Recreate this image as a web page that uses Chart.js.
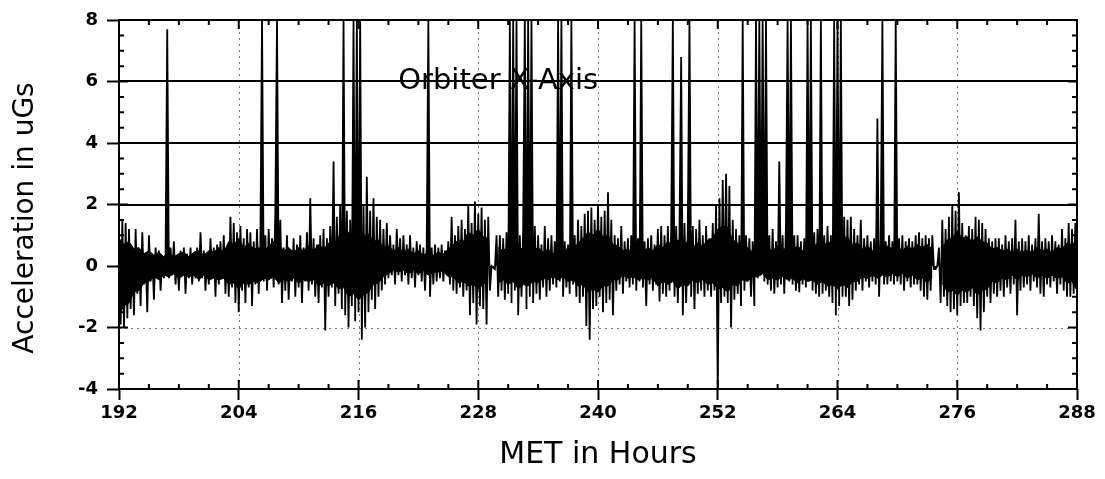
<!DOCTYPE html>
<html><head><meta charset="utf-8">
<script src="https://cdn.jsdelivr.net/npm/chart.js@4.4.1/dist/chart.umd.min.js"></script>
<style>html,body{margin:0;padding:0;background:#fff;} #wrap{width:1105px;height:479px;}</style>
</head><body><div id="wrap"><canvas id="c" width="1105" height="479"></canvas></div>
<script>
// ---- data ----
const xTickLabels = [192, 204, 216, 228, 240, 252, 264, 276, 288];
const yTickLabels = [-4, -2, 0, 2, 4, 6, 8];
const segmentStartHours = [192, 204, 216, 228, 240, 252, 264, 276];
const samplesPerHour = 6;     // spiky trace: one reading every 10 minutes
const coreStepHours = 0.5;    // dense noise core: one envelope reading every half hour

// spiky trace (uG), 12 hours per array
const accel192 = [
 0.8,-1.9,1.5,-2.0,1.4,-1.7,  1.2,-1.4,0.6,-1.6,1.2,-0.9,  0.5,-1.3,1.1,-0.6,0.4,-1.5,
 1.0,-0.5,0.4,-1.1,0.6,-0.4,  0.5,-0.8,0.3,-0.4,0.4,7.7,   -0.4,0.6,-0.3,0.8,-0.6,0.3,
 -0.8,0.5,-0.3,0.6,-0.9,0.4,  -0.4,0.6,-0.6,0.3,-0.4,0.6,  -0.5,1.1,-0.4,0.5,-0.8,0.4,
 -0.6,0.9,-0.3,0.6,-1.0,0.7,  -0.6,0.8,-0.4,1.0,-0.9,0.6,  -1.0,1.6,-0.7,1.4,-1.2,1.1];
const accel204 = [
 -1.5,1.3,-0.8,0.9,-1.2,1.2,  -0.7,1.1,-1.3,0.8,-0.6,1.2,  -0.9,0.7,8,-0.5,1.0,-0.8,
 1.2,-0.4,0.9,-0.7,1.8,8,     -0.6,1.5,-1.2,0.6,-0.8,1.0,  -1.1,0.5,-0.5,0.9,-1.0,0.7,
 -0.7,1.0,-1.2,0.6,-0.5,1.1,  -0.8,2.2,-0.6,0.9,-1.0,0.7,  -1.2,1.0,-0.7,1.2,-2.1,0.9,
 -1.0,1.3,-0.7,3.4,-1.3,1.6,  -0.9,2.0,-1.4,8,-1.6,1.8,    -2.0,1.5,-1.3,8,-1.8,8];
const accel216 = [
 -1.5,8,-2.4,2.0,-2.0,2.9,    -1.5,1.8,-1.1,2.2,-1.4,1.6,  -1.0,1.5,-0.8,1.2,-0.6,1.4,
 -0.4,1.0,-0.3,0.7,-0.6,1.2,  -0.3,0.9,-0.5,1.0,-0.3,0.7,  -0.6,1.0,-0.4,0.6,-0.7,0.8,
 -0.3,0.7,-0.5,0.6,-0.8,0.6,  8,-1.0,0.6,-0.6,0.7,-0.5,    0.6,-0.4,0.7,-0.5,0.5,-0.3,
 0.8,-0.6,1.6,-0.8,1.0,-0.9,  1.3,-0.7,1.5,-1.0,1.2,-0.8,  2.0,-1.6,1.4,-1.2,2.1,-1.9];
const accel228 = [
 1.7,-1.3,1.9,-1.4,1.5,-1.9,  1.6,-0.8,0.0,-0.05,-0.1,1.0, -1.0,1.0,-0.8,0.9,-1.1,1.1,
 -0.9,8,-1.2,8,-0.8,8,        -1.6,1.0,-1.0,1.2,8,-1.4,    8,-1.0,8,-1.2,1.3,-0.9,
 1.0,-1.1,0.7,-0.7,1.3,-1.0,  0.9,-0.8,1.0,-0.6,0.8,-0.7,  8,-0.5,8,-1.0,0.8,-0.7,
 0.7,-0.9,8,-0.6,1.0,-1.0,    1.5,-1.2,1.3,-1.0,1.7,-1.95, 1.8,-2.4,1.9,-1.4,1.5,-1.3];
const accel240 = [
 2.0,-1.0,1.6,-1.5,1.8,-1.2,  2.4,-1.1,1.5,-1.6,1.0,-0.8,  0.9,-0.6,1.3,-0.9,0.8,-0.5,
 0.9,-0.7,1.0,-0.6,8,-0.8,    0.9,-0.5,8,-0.7,0.8,-1.3,    0.9,-0.6,1.0,-0.8,0.7,-0.6,
 1.2,-1.15,1.3,-0.9,1.0,-1.0, 1.3,-0.8,1.1,8,-1.0,1.3,     -1.2,1.1,6.8,-1.6,1.4,-1.2,
 1.2,8,-1.0,1.3,-1.4,1.2,     -0.9,1.5,-0.8,1.0,-1.0,1.3,  -0.8,0.9,-1.0,1.4,-0.8,2.0];
const accel252 = [
 -4.0,2.2,-1.2,2.8,-1.0,3.0,  -1.2,2.6,-2.0,1.5,-1.1,1.2,  -0.9,1.0,-1.3,8,-0.8,1.0,
 -0.5,0.9,-1.0,0.8,-1.3,8,    -0.4,8,-0.3,8,-0.5,8,        -0.6,1.0,-0.8,1.2,-0.9,0.8,
 -0.7,3.4,-0.6,1.0,-0.9,1.3,  8,-0.5,8,-0.6,1.0,-0.8,      1.0,-0.85,0.8,-0.6,0.9,-0.7,
 8,-0.5,8,-0.8,1.1,-0.9,      1.2,-1.0,8,-0.9,1.0,-0.8,    1.3,-1.0,1.0,-1.2,8,-1.6];
const accel264 = [
 8,-1.3,8,-1.0,1.6,-1.0,      1.5,-1.3,1.6,-1.1,1.2,-0.8,  1.0,-0.6,1.5,-0.8,0.9,-0.5,
 1.0,-0.7,0.8,-0.5,0.9,-0.6,  4.8,-1.0,0.9,8,-0.6,0.8,     -0.6,1.0,-0.5,0.8,-0.6,8,
 -0.5,0.9,-0.6,1.0,-0.8,0.8,  -0.5,0.9,-0.7,0.8,-0.6,1.0,  -0.6,1.1,-0.8,0.9,-1.0,1.0,
 -1.1,0.9,-0.8,1.0,-0.1,-0.1, 0.0,0.6,-1.2,1.5,-1.0,1.2,   -1.3,1.6,-1.5,2.0,-1.4,1.8];
const accel276 = [
 -1.6,2.4,-1.3,1.4,-1.2,1.0,  -1.2,1.3,-1.0,1.2,-1.3,1.6,  -1.7,1.5,-2.1,1.4,-1.5,1.2,
 -1.0,0.9,-1.2,0.8,-0.9,0.9,  -1.0,0.9,-0.8,0.7,-1.0,1.0,  -0.7,0.8,-0.9,0.9,-0.6,1.5,
 -1.6,0.8,-0.8,0.9,-0.7,0.8,  -0.6,1.0,-0.8,0.7,-0.5,0.9,  -0.7,1.7,-0.9,0.8,-1.0,0.9,
 -0.6,0.8,-0.7,1.0,-0.5,0.8,  -0.9,0.7,-0.6,1.2,-0.8,0.9,  -1.0,1.4,-1.0,1.2,-0.9,1.4];
const accel288 = [-0.4];

// solid noise core: top and bottom of the solid black band, every half hour from 192 to 288
const coreTop = [
 0.9,0.7,0.8,0.55,0.6,0.4,0.5,0.35,0.45,0.3,0.45,0.3,0.4,0.45,0.3,0.45,0.5,0.35,0.5,0.45,0.6,0.45,0.8,0.7,
 0.9,0.6,0.75,0.55,0.6,0.45,0.65,0.8,0.7,0.5,0.6,0.45,0.6,0.5,0.65,0.5,0.7,0.55,0.75,0.7,0.95,0.85,1.1,0.95,
 1.2,1.0,1.05,0.8,0.85,0.6,0.65,0.5,0.6,0.45,0.55,0.4,0.5,0.35,0.45,0.35,0.45,0.4,0.55,0.7,0.85,0.8,1.1,1.0,
 1.2,0.95,0.9,null,0.6,0.5,0.65,0.55,0.7,0.5,0.65,0.5,0.6,0.45,0.55,0.4,0.55,0.45,0.6,0.5,0.75,0.9,1.1,1.0,
 1.2,0.95,1.0,0.7,0.65,0.5,0.55,0.45,0.55,0.45,0.6,0.5,0.7,0.6,0.8,0.65,0.85,0.7,0.8,0.6,0.75,0.65,0.85,0.9,
 1.2,1.3,1.25,0.85,0.75,0.55,0.6,0.45,0.55,0.45,0.6,0.5,0.65,0.5,0.65,0.55,0.65,0.5,0.7,0.6,0.75,0.6,0.8,0.7,
 0.95,0.9,0.95,0.7,0.75,0.55,0.65,0.5,0.65,0.5,0.65,0.55,0.65,0.5,0.65,0.55,0.7,0.6,0.7,0.55,null,0.6,0.85,0.9,
 1.15,0.9,0.95,0.8,0.95,0.8,0.75,0.55,0.6,0.5,0.55,0.45,0.55,0.45,0.5,0.45,0.6,0.5,0.55,0.45,0.6,0.55,0.75,0.7,
 0.8];
const coreBottom = [
 -1.6,-1.3,-1.2,-0.85,-0.8,-0.55,-0.5,-0.35,-0.45,-0.3,-0.35,-0.25,-0.4,-0.3,-0.35,-0.3,-0.45,-0.3,-0.45,-0.4,-0.45,-0.4,-0.6,-0.55,
 -0.75,-0.55,-0.6,-0.5,-0.55,-0.4,-0.45,-0.35,-0.55,-0.45,-0.5,-0.4,-0.55,-0.45,-0.5,-0.45,-0.65,-0.55,-0.65,-0.55,-0.75,-0.7,-1.0,-0.9,
 -1.1,-0.95,-0.85,-0.6,-0.55,-0.35,-0.25,-0.15,-0.2,-0.15,-0.25,-0.15,-0.25,-0.15,-0.3,-0.2,-0.2,-0.15,-0.35,-0.35,-0.55,-0.5,-0.65,-0.6,
 -0.75,-0.6,-0.5,null,-0.55,-0.45,-0.6,-0.5,-0.75,-0.6,-0.65,-0.5,-0.55,-0.4,-0.45,-0.35,-0.45,-0.35,-0.5,-0.45,-0.65,-0.6,-0.85,-0.75,
 -0.85,-0.65,-0.65,-0.45,-0.45,-0.3,-0.4,-0.35,-0.45,-0.4,-0.45,-0.4,-0.65,-0.5,-0.6,-0.5,-0.75,-0.6,-0.65,-0.45,-0.55,-0.45,-0.6,-0.55,
 -0.75,-0.7,-0.85,-0.6,-0.65,-0.45,-0.5,-0.35,-0.35,-0.25,-0.45,-0.4,-0.45,-0.35,-0.45,-0.4,-0.55,-0.4,-0.5,-0.45,-0.6,-0.5,-0.65,-0.6,
 -0.75,-0.6,-0.7,-0.5,-0.5,-0.35,-0.4,-0.3,-0.4,-0.3,-0.35,-0.25,-0.35,-0.25,-0.4,-0.3,-0.45,-0.4,-0.55,-0.35,null,-0.55,-0.85,-0.8,
 -0.95,-0.8,-0.85,-0.7,-0.95,-0.8,-0.75,-0.5,-0.55,-0.4,-0.45,-0.3,-0.45,-0.3,-0.35,-0.25,-0.4,-0.3,-0.4,-0.3,-0.4,-0.35,-0.55,-0.5,
 -0.8];

const solidGridValues = [2, 4, 6];
const dottedGridValues = [-2, 0];
const annotationText = 'Orbiter X-Axis';
const annotationAt = {x: 230, y: 6};
const yTitleText = 'Acceleration in uGs';

// ---- build points ----
const segments = [accel192, accel204, accel216, accel228, accel240, accel252, accel264, accel276];
const points = [];
segments.forEach((arr, k) => arr.forEach((v, i) => points.push({x: segmentStartHours[k] + i / samplesPerHour, y: v})));
points.push({x: 288, y: accel288[0]});
const corePtsTop = coreTop.map((v, j) => ({x: xTickLabels[0] + j * coreStepHours, y: v}));
const corePtsBottom = coreBottom.map((v, j) => ({x: xTickLabels[0] + j * coreStepHours, y: v}));

const FONT = '"DejaVu Sans", "Liberation Sans", Arial, sans-serif';

const framePlugin = {
  id: 'frame',
  beforeDatasetsDraw(chart) {
    const {ctx, chartArea: a, scales: {x, y}} = chart;
    ctx.save();
    ctx.strokeStyle = '#777'; ctx.lineWidth = 1; ctx.setLineDash([2, 4]);
    xTickLabels.slice(1, -1).forEach(v => {
      const px = Math.round(x.getPixelForValue(v)) + 0.5;
      ctx.beginPath(); ctx.moveTo(px, a.top); ctx.lineTo(px, a.bottom); ctx.stroke();
    });
    dottedGridValues.forEach(v => {
      const py = Math.round(y.getPixelForValue(v)) + 0.5;
      ctx.beginPath(); ctx.moveTo(a.left, py); ctx.lineTo(a.right, py); ctx.stroke();
    });
    ctx.setLineDash([]);
    ctx.strokeStyle = '#000'; ctx.lineWidth = 2;
    solidGridValues.forEach(v => {
      const py = Math.round(y.getPixelForValue(v));
      ctx.beginPath(); ctx.moveTo(a.left, py); ctx.lineTo(a.right, py); ctx.stroke();
    });
    ctx.restore();
  },
  afterDatasetsDraw(chart) {
    const {ctx, chartArea: a, scales: {x, y}} = chart;
    ctx.save();
    ctx.strokeStyle = '#000'; ctx.lineWidth = 2;
    ctx.strokeRect(a.left, a.top, a.right - a.left, a.bottom - a.top);
    for (let h = 192; h <= 288; h += 3) {
      const px = x.getPixelForValue(h);
      const len = (h % 12 === 0) ? 9 : 5;
      ctx.beginPath();
      ctx.moveTo(px, a.bottom); ctx.lineTo(px, a.bottom - len);
      ctx.moveTo(px, a.top); ctx.lineTo(px, a.top + len);
      ctx.stroke();
    }
    for (let v = -4; v <= 8; v += 0.5) {
      const py = y.getPixelForValue(v);
      const len = (v % 2 === 0) ? 9 : 5;
      ctx.beginPath();
      ctx.moveTo(a.left, py); ctx.lineTo(a.left + len, py);
      ctx.moveTo(a.right, py); ctx.lineTo(a.right - len, py);
      ctx.stroke();
    }
    ctx.fillStyle = '#000';
    ctx.font = '29px ' + FONT;
    ctx.textAlign = 'center'; ctx.textBaseline = 'middle';
    ctx.fillText(annotationText, x.getPixelForValue(annotationAt.x), y.getPixelForValue(annotationAt.y));
    ctx.save();
    ctx.translate(26, 218);
    ctx.rotate(-Math.PI / 2);
    ctx.font = '28px ' + FONT;
    ctx.fillText(yTitleText, 0, 0);
    ctx.restore();
    ctx.restore();
  }
};

new Chart(document.getElementById('c').getContext('2d'), {
  type: 'line',
  data: { datasets: [
    { data: corePtsTop, borderColor: '#000', borderWidth: 1, pointRadius: 0, tension: 0, fill: '+1', backgroundColor: '#000', spanGaps: false },
    { data: corePtsBottom, borderColor: '#000', borderWidth: 1, pointRadius: 0, tension: 0, fill: false, spanGaps: false },
    { data: points, borderColor: '#000', borderWidth: 1.8, pointRadius: 0, tension: 0, fill: 'origin', backgroundColor: '#000' }
  ] },
  options: {
    responsive: false, animation: false, events: [],
    layout: { padding: { top: 20, right: 28, left: 0, bottom: 0 } },
    plugins: { legend: { display: false }, tooltip: { enabled: false } },
    scales: {
      x: {
        type: 'linear', min: 192, max: 288,
        afterBuildTicks: s => { s.ticks = xTickLabels.map(v => ({ value: v })); },
        afterFit: s => { s.height = 90; },
        grid: { drawOnChartArea: false, drawTicks: true, tickLength: 11, tickColor: '#000', tickWidth: 2 },
        border: { display: false },
        ticks: { color: '#000', font: { family: FONT, weight: 'bold', size: 18 }, padding: 3, maxRotation: 0, autoSkip: false },
        title: { display: true, text: 'MET in Hours', color: '#000', font: { family: FONT, size: 30 }, padding: { top: 0, bottom: 6 } }
      },
      y: {
        type: 'linear', min: -4, max: 8,
        afterBuildTicks: s => { s.ticks = yTickLabels.map(v => ({ value: v })); },
        afterFit: s => { s.width = 119; },
        grid: { drawOnChartArea: false, drawTicks: true, tickLength: 12, tickColor: '#000', tickWidth: 2 },
        border: { display: false },
        ticks: { color: '#000', font: { family: FONT, weight: 'bold', size: 18 }, padding: 9, autoSkip: false },
        title: { display: false }
      }
    }
  },
  plugins: [framePlugin]
});
</script></body></html>
